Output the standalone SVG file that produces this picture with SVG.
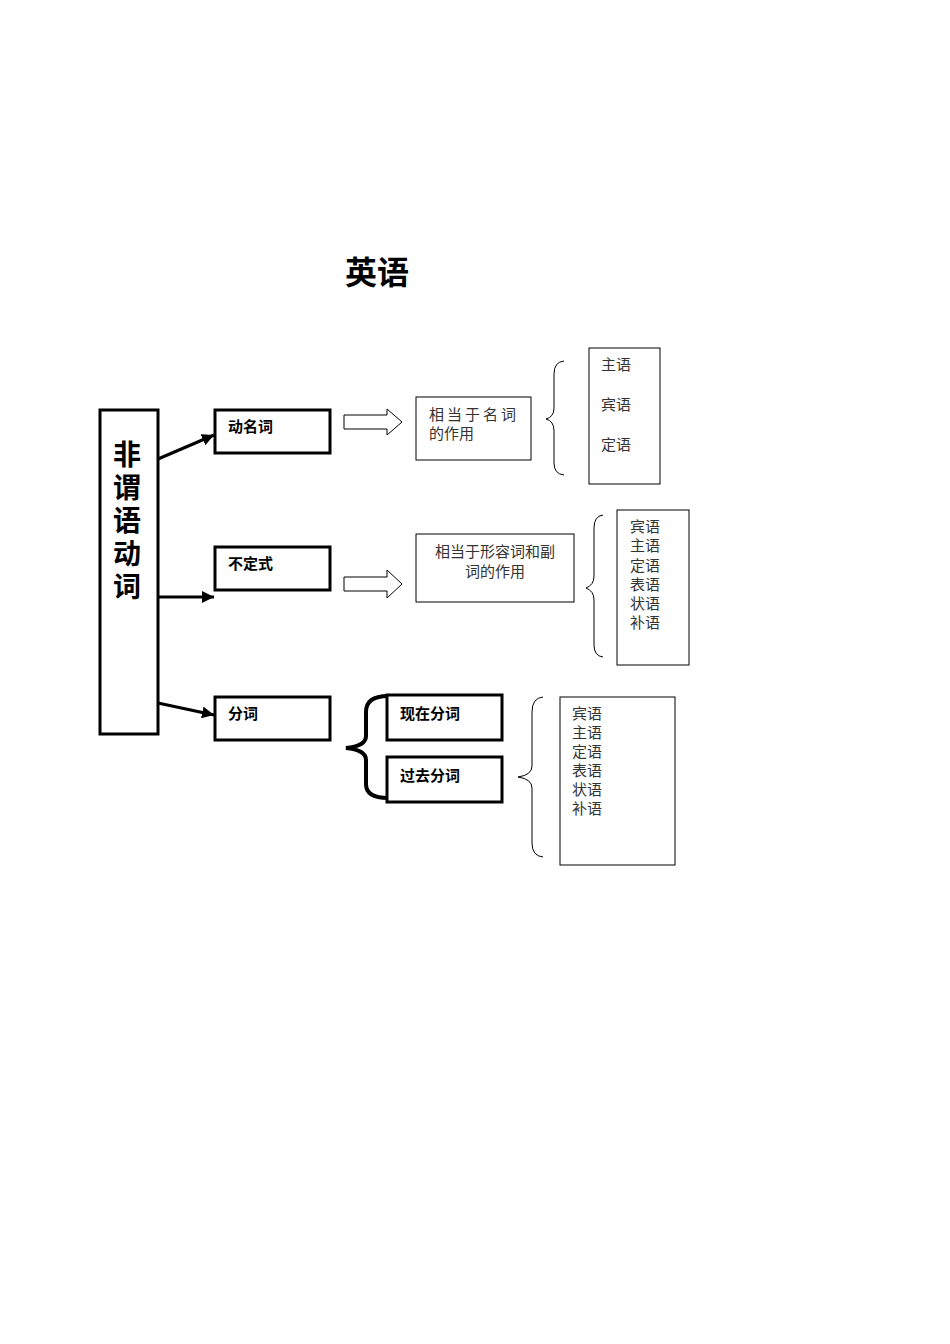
<svg xmlns="http://www.w3.org/2000/svg" width="950" height="1344" viewBox="0 0 950 1344">
<style>
.bx{fill:#fff;stroke:#000;stroke-width:3}
.tb{fill:#fff;stroke:#000;stroke-width:1}
.lb{font-family:"Liberation Sans","Noto Sans CJK SC",sans-serif;font-size:15px;font-weight:bold;fill:#000}
.tx{font-family:"Noto Sans CJK SC",sans-serif;font-size:15px;fill:#333}
.br{fill:none;stroke:#000;stroke-width:1}
.con{fill:none;stroke:#000;stroke-width:3}
</style>
<defs>
<marker id="ah" markerUnits="userSpaceOnUse" markerWidth="14" markerHeight="12" refX="12" refY="6" orient="auto">
<path d="M0,0 L12,6 L0,12 Z" fill="#000"/>
</marker>
</defs>
<text x="377" y="284" text-anchor="middle" font-family="Noto Sans CJK SC,sans-serif" font-size="32" font-weight="bold">英语</text>
<g id="main">
<rect class="bx" x="100" y="410" width="58" height="324"/>
<text x="127" y="440" font-family="Noto Sans CJK SC,sans-serif" font-size="28" font-weight="bold" style="writing-mode:vertical-rl;text-orientation:upright" letter-spacing="5">非谓语动词</text>
</g>
<g id="gerund"><rect class="bx" x="215" y="410" width="115" height="43"/><text class="lb" x="228" y="432">动名词</text></g>
<g id="infinitive"><rect class="bx" x="215" y="547" width="115" height="43"/><text class="lb" x="228" y="569">不定式</text></g>
<g id="participle"><rect class="bx" x="215" y="697" width="115" height="43"/><text class="lb" x="228" y="719">分词</text></g>
<g id="present"><rect class="bx" x="387" y="695" width="115" height="45"/><text class="lb" x="400" y="719">现在分词</text></g>
<g id="past"><rect class="bx" x="387" y="757" width="115" height="45"/><text class="lb" x="400" y="781">过去分词</text></g>
<g id="noun-role"><rect class="tb" x="416" y="397" width="115" height="63"/>
<text class="tx" x="429" y="420" letter-spacing="3">相当于名词</text><text class="tx" x="429" y="439">的作用</text></g>
<g id="adj-role"><rect class="tb" x="416" y="534" width="158" height="68"/>
<text class="tx" x="495" y="557" text-anchor="middle">相当于形容词和副</text><text class="tx" x="495" y="577" text-anchor="middle">词的作用</text></g>
<g id="list1"><rect class="tb" x="589" y="348" width="71" height="136"/>
<text class="tx" x="601" y="370">主语</text><text class="tx" x="601" y="410">宾语</text><text class="tx" x="601" y="450">定语</text></g>
<g id="list2"><rect class="tb" x="617" y="510" width="72" height="155"/>
<g class="tx"><text x="630" y="532">宾语</text><text x="630" y="551">主语</text><text x="630" y="571">定语</text><text x="630" y="590">表语</text><text x="630" y="609">状语</text><text x="630" y="628">补语</text></g></g>
<g id="list3"><rect class="tb" x="560" y="697" width="115" height="168"/>
<g class="tx"><text x="572" y="719">宾语</text><text x="572" y="738">主语</text><text x="572" y="757">定语</text><text x="572" y="776">表语</text><text x="572" y="795">状语</text><text x="572" y="814">补语</text></g></g>
<g id="connectors">
<path class="con" d="M158,459 L214,435" marker-end="url(#ah)"/>
<path class="con" d="M158,597 L214,597" marker-end="url(#ah)"/>
<path class="con" d="M158,703 L214,715" marker-end="url(#ah)"/>
<path d="M344,415 L387,415 L387,409 L402,422 L387,435 L387,429 L344,429 Z" fill="#fff" stroke="#000" stroke-width="1"/>
<path d="M344,577 L387,577 L387,570 L402,584 L387,598 L387,591 L344,591 Z" fill="#fff" stroke="#000" stroke-width="1"/>
<path class="br" d="M564,361 Q554,362 554,374 L554,408 Q554,417 546,419 Q554,421 554,431 L554,463 Q554,474 564,475"/>
<path class="br" d="M603,515 Q594,516 594,528 L594,576 Q594,585 586,588 Q594,591 594,600 L594,645 Q594,656 603,657"/>
<path class="br" d="M543,697 Q532,698 532,712 L532,766 Q532,775 518,777 Q532,779 532,788 L532,843 Q532,856 543,857"/>
<path d="M388,696 Q366,696 366,712 L366,736 Q366,746 346,748 Q366,750 366,760 L366,784 Q366,798 388,798" fill="none" stroke="#000" stroke-width="4"/>
</g>
</svg>
